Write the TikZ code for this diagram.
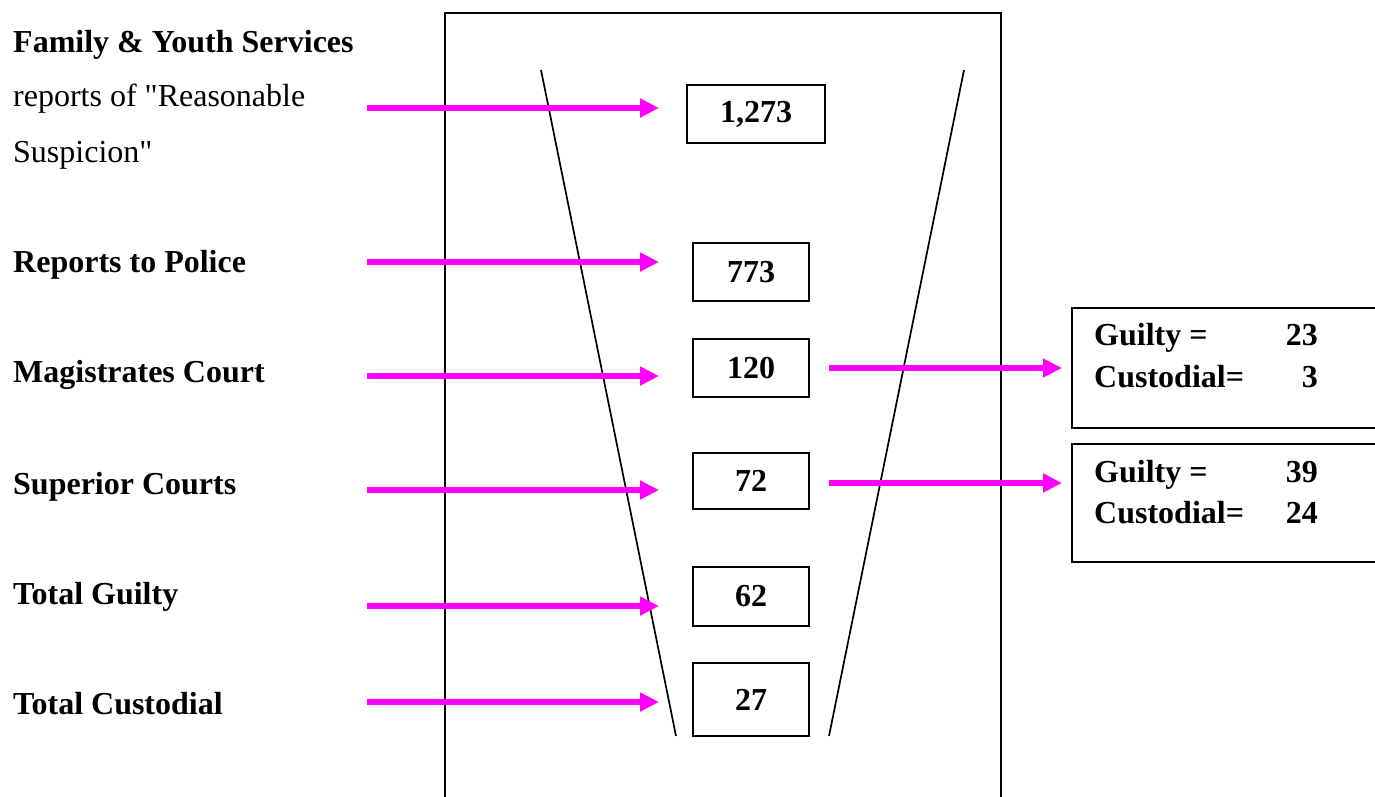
\documentclass[tikz,border=0pt]{standalone}
\usepackage{fontspec}
\setmainfont{Liberation Serif}
\usetikzlibrary{arrows.meta}
\definecolor{pinkarrow}{RGB}{255,0,255}
\tikzset{
  lbl/.style={anchor=base west, inner sep=0pt, font=\fontsize{32}{38}\selectfont\bfseries},
  lblreg/.style={anchor=base west, inner sep=0pt, font=\fontsize{32}{38}\selectfont},
  numbox/.style={draw, line width=1.8pt, inner sep=0pt, font=\fontsize{32}{38}\selectfont\bfseries},
  valtxt/.style={anchor=base east, inner sep=0pt, font=\fontsize{32}{38}\selectfont\bfseries},
  resbox/.style={draw, line width=1.8pt, anchor=north west, inner sep=0pt},
  flow/.style={draw=pinkarrow, line width=6.5pt, -{Triangle[length=19pt,width=18pt]}},
  funnel/.style={line width=1.7pt},
}
\begin{document}
\begin{tikzpicture}[x=1pt,y=-1pt]
\useasboundingbox (0,0) rectangle (1375,796);
% big frame
\draw[line width=1.8pt] (445,830) -- (445,13) -- (1001,13) -- (1001,830);
% funnel
\coordinate (fl1) at (541,70);
\coordinate (fl2) at (676,736);
\coordinate (fr1) at (964,70);
\coordinate (fr2) at (829,736);
\draw[funnel] (fl1) -- (fl2);
\draw[funnel] (fr1) -- (fr2);
% left labels
\node[lbl] (l1a) at (13,52) {Family \& Youth Services};
\node[lblreg] (l1b) at (13,106) {reports of \textquotedbl Reasonable};
\node[lblreg] (l1c) at (13,162) {Suspicion\textquotedbl};
\node[lbl] (l2) at (13,272) {Reports to Police};
\node[lbl] (l3) at (13,382) {Magistrates Court};
\node[lbl] (l4) at (13,494) {Superior Courts};
\node[lbl] (l5) at (13,604) {Total Guilty};
\node[lbl] (l6) at (13,714) {Total Custodial};
% number boxes
\node[numbox, minimum width=138pt, minimum height=58pt] (n1) at (756,114) {1,273};
\node[numbox, minimum width=116pt, minimum height=58pt] (n2) at (751,272) {773};
\node[numbox, minimum width=116pt, minimum height=58pt] (n3) at (751,368) {120};
\node[numbox, minimum width=116pt, minimum height=56pt] (n4) at (751,481) {72};
\node[numbox, minimum width=116pt, minimum height=59pt] (n5) at (751,596.5) {62};
\node[numbox, minimum width=116pt, minimum height=73pt] (n6) at (751,699.5) {27};
% arrow endpoints
\coordinate (a1s) at (367,108); \coordinate (a1e) at (659,108);
\coordinate (a2s) at (367,262); \coordinate (a2e) at (659,262);
\coordinate (a3s) at (367,376); \coordinate (a3e) at (659,376);
\coordinate (a4s) at (367,490); \coordinate (a4e) at (659,490);
\coordinate (a5s) at (367,606); \coordinate (a5e) at (659,606);
\coordinate (a6s) at (367,702); \coordinate (a6e) at (659,702);
\draw[flow] (a1s) -- (a1e);
\draw[flow] (a2s) -- (a2e);
\draw[flow] (a3s) -- (a3e);
\draw[flow] (a4s) -- (a4e);
\draw[flow] (a5s) -- (a5e);
\draw[flow] (a6s) -- (a6e);
% result boxes
\node[resbox, minimum width=330pt, minimum height=120pt] (r1) at (1071,307) {};
\node[resbox, minimum width=330pt, minimum height=118pt] (r2) at (1071,443) {};
\node[lbl] (r1a) at (1094,345) {Guilty =};
\node[valtxt] (r1av) at (1318,345) {23};
\node[lbl] (r1b) at (1094,387) {Custodial=};
\node[valtxt] (r1bv) at (1318,387) {3};
\node[lbl] (r2a) at (1094,482) {Guilty =};
\node[valtxt] (r2av) at (1318,482) {39};
\node[lbl] (r2b) at (1094,523) {Custodial=};
\node[valtxt] (r2bv) at (1318,523) {24};
% right arrows
\coordinate (b1s) at (829,368); \coordinate (b1e) at (1062,368);
\coordinate (b2s) at (829,483); \coordinate (b2e) at (1062,483);
\draw[flow] (b1s) -- (b1e);
\draw[flow] (b2s) -- (b2e);
\end{tikzpicture}
\end{document}
